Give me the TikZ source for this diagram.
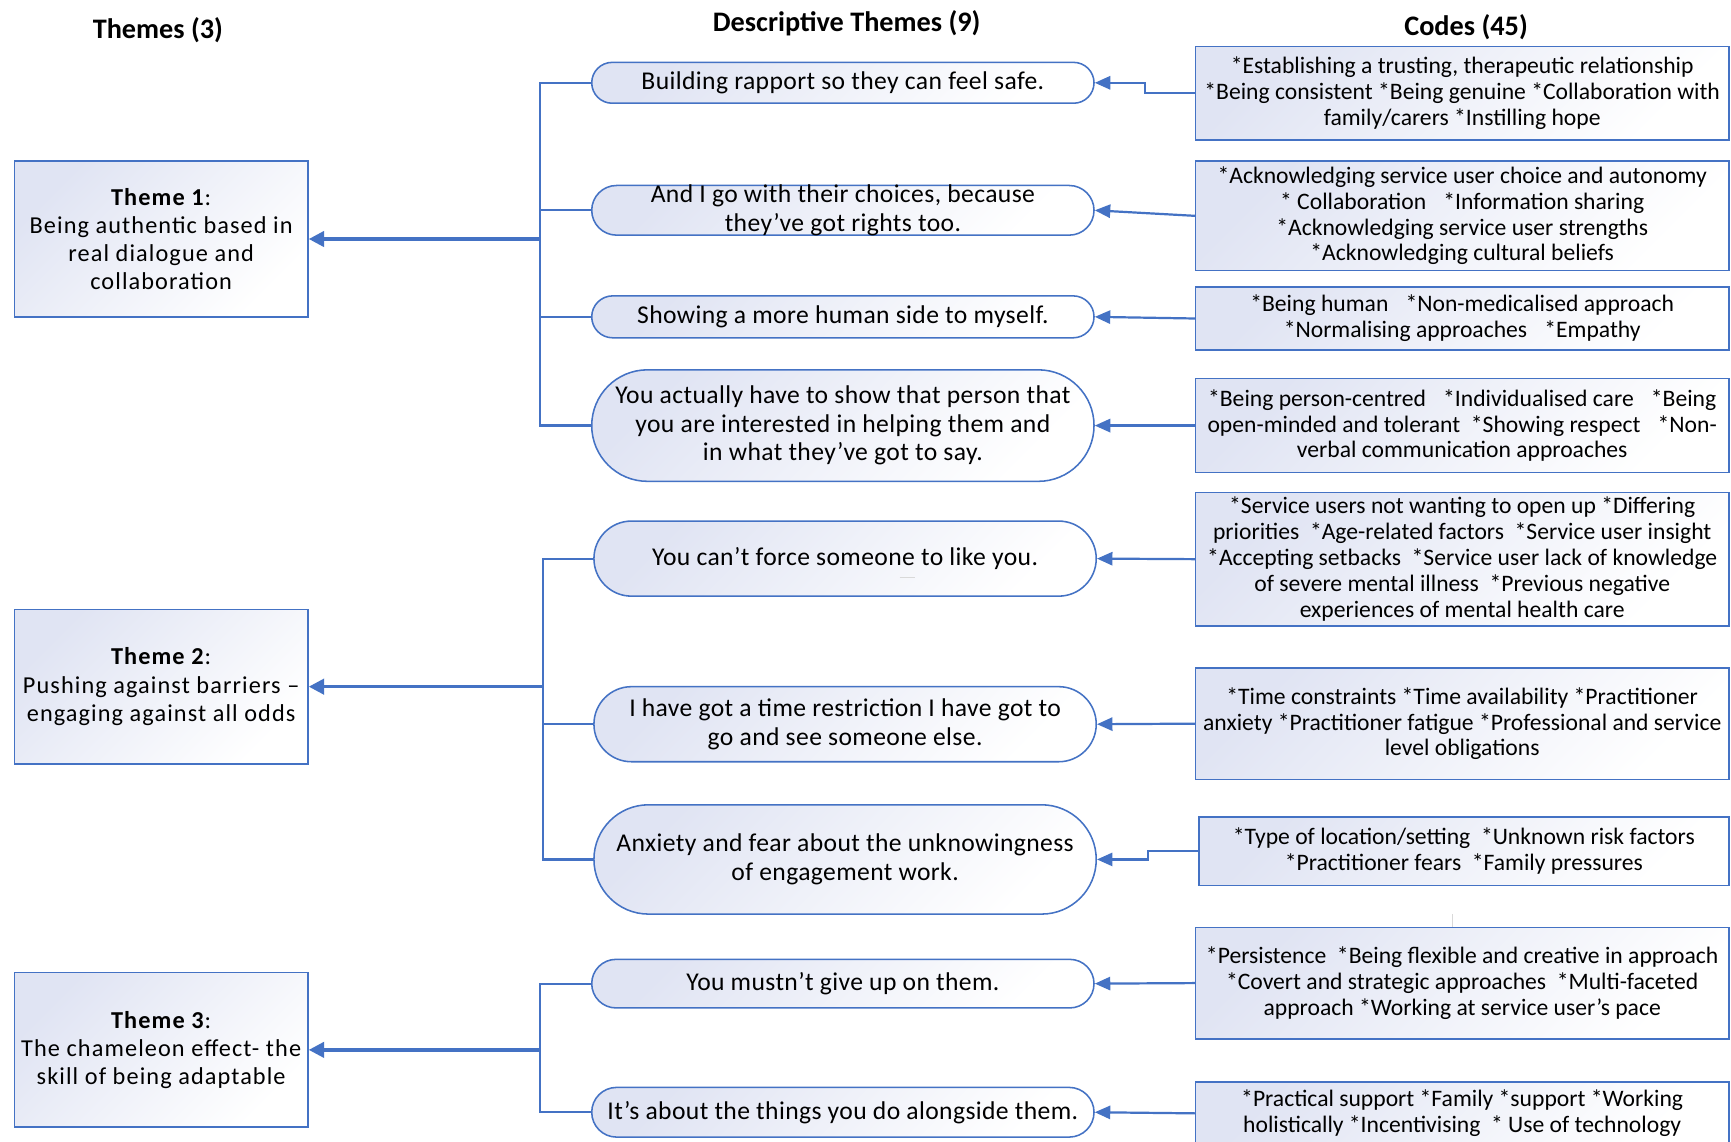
\documentclass[tikz,border=0pt]{standalone}
\usepackage{fontspec}
\setmainfont{Carlito}
\usetikzlibrary{shapes.misc,arrows.meta}
\definecolor{obl}{HTML}{4472C4}
\definecolor{grad}{RGB}{224,228,243}
\begin{document}
\begin{tikzpicture}[x=0.5pt,y=-0.5pt,
  shadebox/.style={draw=obl, line width=0.7pt, top color=grad, bottom color=white, shading angle=45},
  themebox/.style={shadebox, rectangle, minimum width=133pt, minimum height=70pt, inner sep=0pt},
  pill/.style={shadebox, rounded rectangle, minimum width=227.5pt, inner sep=0pt},
  codebox/.style={shadebox, rectangle, minimum width=241.5pt, inner sep=0pt},
  ptext/.style={align=center, font=\fontsize{11.6}{13}\selectfont\addfontfeature{LetterSpace=1.5}, inner sep=0pt},
  ttext/.style={align=center, font=\fontsize{11}{12.75}\selectfont\addfontfeature{LetterSpace=4.5}, inner sep=0pt},
  ctext/.style={align=center, font=\fontsize{10.7}{11.7}\selectfont, inner sep=0pt},
  head/.style={font=\fontsize{12.8}{14}\selectfont\bfseries, inner sep=0pt},
  conn/.style={draw=obl, line width=1pt},
  arr/.style={conn, -{Triangle[length=7pt,width=6pt]}},
  bigarr/.style={draw=obl, line width=1.5pt, -{Triangle[length=7pt,width=7pt]}},
  stray/.style={draw=black!15, line width=0.6pt}
]
\fill[white] (0,0) rectangle (1568,1034);
\useasboundingbox (0,0) rectangle (1568,1034);

% headers
\node[head] (h1) at (143,27) {Themes (3)};
\node[head] (h2) at (767,21) {Descriptive Themes (9)};
\node[head] (h3) at (1328,25) {Codes (45)};

% themes
\node[themebox, minimum height=70.5pt] (t1) at (146,216.5) {};
\node[ttext] (t1t) at (t1) {\textbf{Theme 1}:\\Being authentic based in\\real dialogue and\\collaboration};
\node[themebox] (t2) at (146,622) {};
\node[ttext] (t2t) at (t2) {\textbf{Theme 2}:\\Pushing against barriers –\\engaging against all odds};
\node[themebox] (t3) at (146,951) {};
\node[ttext] (t3t) at (t3) {\textbf{Theme 3}:\\The chameleon effect- the\\skill of being adaptable};

% descriptive themes
\node[pill, minimum height=18.5pt] (p1) at (763.5,75) {};
\node[ptext] (p1t) at (p1) {Building rapport so they can feel safe.};
\node[pill, minimum height=22.5pt] (p2) at (763.5,190.5) {};
\node[ptext] (p2t) at (p2) {And I go with their choices, because\\they’ve got rights too.};
\node[pill, minimum height=19pt] (p3) at (763.5,287) {};
\node[ptext] (p3t) at (p3) {Showing a more human side to myself.};
\node[pill, minimum height=50.5pt] (p4) at (763.5,385.5) {};
\node[ptext] (p4t) at (p4) {You actually have to show that person that\\you are interested in helping them and\\in what they’ve got to say.};
\node[pill, minimum height=34pt] (p5) at (765.5,506) {};
\node[ptext] (p5t) at (p5) {You can’t force someone to like you.};
\node[pill, minimum height=34pt] (p6) at (765.5,656) {};
\node[ptext] (p6t) at (p6) {I have got a time restriction I have got to\\go and see someone else.};
\node[pill, minimum height=49.5pt] (p7) at (765.5,778.5) {};
\node[ptext] (p7t) at (p7) {Anxiety and fear about the unknowingness\\of engagement work.};
\node[pill, minimum height=22pt] (p8) at (763.5,891) {};
\node[ptext] (p8t) at (p8) {You mustn’t give up on them.};
\node[pill, minimum height=22.5pt] (p9) at (763.5,1007.5) {};
\node[ptext] (p9t) at (p9) {It’s about the things you do alongside them.};

% codes
\node[codebox, minimum height=42.5pt] (c1) at (1324.5,84.5) {};
\node[ctext] (c1t) at (c1) {*Establishing a trusting, therapeutic relationship\\*Being consistent *Being genuine *Collaboration with\\family/carers *Instilling hope};
\node[codebox, minimum height=49.5pt] (c2) at (1324.5,195.5) {};
\node[ctext] (c2t) at (c2) {*Acknowledging service user choice and autonomy\\* Collaboration\enspace\ *Information sharing\\*Acknowledging service user strengths\\*Acknowledging cultural beliefs};
\node[codebox, minimum height=28.5pt] (c3) at (1324.5,288.5) {};
\node[ctext] (c3t) at (c3) {*Being human\enspace\ *Non-medicalised approach\\*Normalising approaches\enspace\ *Empathy};
\node[codebox, minimum height=42.5pt] (c4) at (1324.5,385.5) {};
\node[ctext] (c4t) at (c4) {*Being person-centred\enspace\ *Individualised care\enspace\ *Being\\open-minded and tolerant\ \ *Showing respect\enspace\ *Non-\\verbal communication approaches};
\node[codebox, minimum height=60.5pt] (c5) at (1324.5,506.5) {};
\node[ctext] (c5t) at (c5) {*Service users not wanting to open up *Differing\\priorities\ \ *Age-related factors\ \ *Service user insight\\*Accepting setbacks\ \ *Service user lack of knowledge\\of severe mental illness\ \ *Previous negative\\experiences of mental health care};
\node[codebox, minimum height=50.5pt] (c6) at (1324.5,655.5) {};
\node[ctext] (c6t) at (c6) {*Time constraints *Time availability *Practitioner\\anxiety *Practitioner fatigue *Professional and service\\level obligations};
\node[codebox, minimum width=240pt, minimum height=31pt] (c7) at (1326,771) {};
\node[ctext] (c7t) at (c7) {*Type of location/setting\ \ *Unknown risk factors\\*Practitioner fears\ \ *Family pressures};
\node[codebox, minimum height=50.5pt] (c8) at (1324.5,890.5) {};
\node[ctext] (c8t) at (c8) {*Persistence\ \ *Being flexible and creative in approach\\*Covert and strategic approaches\ \ *Multi-faceted\\approach *Working at service user’s pace};
\node[codebox, minimum height=28.5pt] (c9) at (1324.5,1008.5) {};
\node[ctext] (c9t) at (c9) {*Practical support *Family *support *Working\\holistically *Incentivising\ \ * Use of technology};

% bus coordinates
\coordinate (bus1) at (489,216.5);
\coordinate (bus2) at (492,622);
\coordinate (bus3) at (489,951);
\coordinate (e1) at (1037,0);
\coordinate (e7) at (1040,0);

% group 1
\draw[conn] (p1.west) -- (p1.west -| bus1) -- (p4.west -| bus1) -- (p4.west);
\draw[conn] (p2.west) -- (p2.west -| bus1);
\draw[conn] (p3.west) -- (p3.west -| bus1);
\draw[bigarr] (t1.east -| bus1) -- (t1.east);
% group 2
\draw[conn] (p5.west) -- (p5.west -| bus2) -- (p7.west -| bus2) -- (p7.west);
\draw[conn] (p6.west) -- (p6.west -| bus2);
\draw[bigarr] (t2.east -| bus2) -- (t2.east);
% group 3
\draw[conn] (p8.west) -- (p8.west -| bus3) -- (p9.west -| bus3) -- (p9.west);
\draw[bigarr] (t3.east -| bus3) -- (t3.east);

% codes to descriptive themes
\draw[arr] (c1.west) -- (c1.west -| e1) |- (p1.east);
\draw[arr] (c2.west) -- (p2.east);
\draw[arr] (c3.west) -- (p3.east);
\draw[arr] (c4.west) -- (p4.east);
\draw[arr] (c5.west) -- (p5.east);
\draw[arr] (c6.west) -- (p6.east);
\draw[arr] (c7.west) -- (c7.west -| e7) |- (p7.east);
\draw[arr] (c8.west) -- (p8.east);
\draw[arr] (c9.west) -- (p9.east);

% stray marks
\draw[stray] (815,523) -- (829,523);
\draw[stray] (1316,828) -- (1316,840);
\end{tikzpicture}
\end{document}
